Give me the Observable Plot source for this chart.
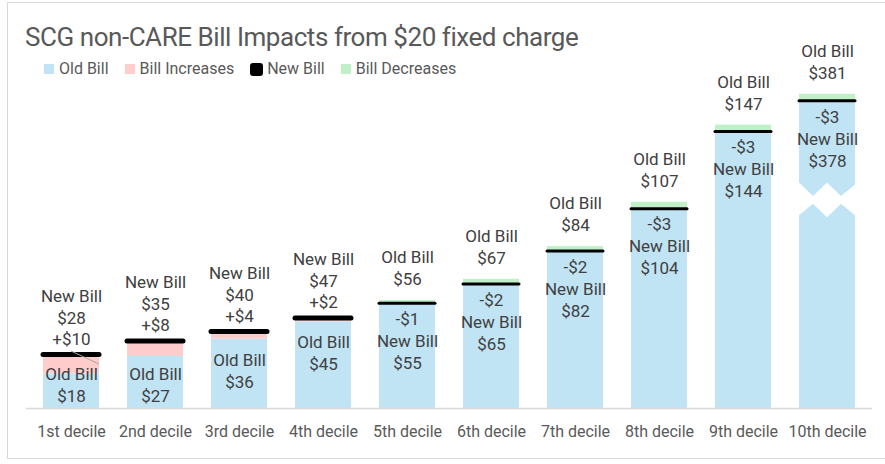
<!DOCTYPE html>
<html>
<head>
<meta charset="utf-8">
<script src="https://cdn.jsdelivr.net/npm/d3@7"></script>
<script src="https://cdn.jsdelivr.net/npm/@observablehq/plot@0.6"></script>
<style>
  html, body { margin: 0; padding: 0; background: #fff; }
  #wrap { position: relative; width: 885px; height: 464px; overflow: hidden; font-family: Roboto, "Noto Sans", sans-serif; }
  #frame { position: absolute; left: 7px; top: 2px; width: 900px; height: 457px; border: 1px solid #d9d9d9; box-sizing: border-box; }
  #chart { position: absolute; left: 0; top: 0; }
  #title { position: absolute; left: 25px; top: 22px; font-size: 26px; line-height: 30px; color: #595959; letter-spacing: -0.45px; white-space: nowrap; }
  #legend { position: absolute; left: 44px; top: 59px; display: flex; align-items: center; font-size: 16px; line-height: 20px; color: #595959; white-space: nowrap; }
  .item { display: flex; align-items: center; margin-right: 16px; }
  .sw { width: 10px; height: 10px; margin-right: 5px; }
  .sw.line { width: 13px; height: 13px; border-radius: 3px; margin-right: 4px; }
</style>
</head>
<body>
<div id="wrap">
  <div id="frame"></div>
  <div id="chart"></div>
  <div id="title"></div>
  <div id="legend"></div>
</div>
<script>
// ---- data ----
const title = "SCG non-CARE Bill Impacts from $20 fixed charge";
const deciles = ["1st decile", "2nd decile", "3rd decile", "4th decile", "5th decile",
                 "6th decile", "7th decile", "8th decile", "9th decile", "10th decile"];
const oldBill = [18, 27, 36, 45, 56, 67, 84, 107, 147, 381];
const newBill = [28, 35, 40, 47, 55, 65, 82, 104, 144, 378];
const seriesNames = ["Old Bill", "Bill Increases", "New Bill", "Bill Decreases"];
const seriesColors = ["#C1E4F5", "#FFCCCC", "#000000", "#C1F0C8"];

// broken value axis for the tallest bar
const breakAbove = 200;      // values above this are drawn shifted down
const breakShift = 218;      // amount removed by the axis break
const breakUpper = [117, 110, 117, 110, 116];   // zigzag edges of the break (value units)
const breakLower = [100, 106, 99, 106, 100];
const labelFloor = 28.5;     // lowest anchor for in-bar labels

// ---- derived table ----
const disp = v => v > breakAbove ? v - breakShift : v;
const rows = deciles.map((d, i) => {
  const o = oldBill[i], n = newBill[i];
  return {decile: d, old: o, nw: n, diff: n - o,
          dOld: disp(o), dNew: disp(n), dBase: disp(Math.min(o, n)),
          up: n > o, broken: o > breakAbove};
});
const inc = rows.filter(r => r.up);
const dec = rows.filter(r => !r.up);

const textColor = "#404040";
const fs = 17;

function breakMark(index, scales) {
  const x = scales.x, y = scales.y;
  const bw = typeof x.bandwidth === "function" ? x.bandwidth() : 0;
  const g = d3.create("svg:g");
  rows.filter(r => r.broken).forEach(r => {
    const x0 = x(r.decile);
    const fr = [0, 0.25, 0.5, 0.75, 1];
    const pts = fr.map((f, k) => [x0 + f * bw, y(breakUpper[k])])
      .concat(fr.slice().reverse().map((f, k) => [x0 + f * bw, y(breakLower[fr.length - 1 - k])]));
    g.append("path").attr("d", "M" + pts.map(p => p.join(",")).join("L") + "Z")
      .attr("fill", "#fff").attr("stroke", "none");
  });
  return g.node();
}

function leaderMark(index, scales) {
  const x = scales.x, y = scales.y;
  const bw = typeof x.bandwidth === "function" ? x.bandwidth() : 0;
  const r = inc[0];
  const x0 = x(r.decile);
  return d3.create("svg:line")
    .attr("x1", x0 + bw * 0.5).attr("y1", y(r.dNew) - 3)
    .attr("x2", x0 + bw).attr("y2", y(r.dNew) + 10)
    .attr("stroke", "#a6a6a6").attr("stroke-width", 1).node();
}

const t = (data, opts) => Plot.text(data, {x: "decile", fill: textColor, fontSize: fs, lineAnchor: "middle", ...opts});

const chart = Plot.plot({
  width: 885,
  height: 464,
  marginTop: 61,
  marginBottom: 56,
  marginLeft: 26,
  marginRight: 13,
  style: {fontFamily: "Roboto, 'Noto Sans', sans-serif", background: "transparent", overflow: "visible"},
  x: {domain: deciles, paddingInner: 0.33, paddingOuter: 0.165, align: 0.5, label: null},
  y: {domain: [0, 180], axis: null},
  marks: [
    Plot.barY(rows, {x: "decile", y1: 0, y2: "dBase", fill: seriesColors[0]}),
    Plot.barY(inc, {x: "decile", y1: "dOld", y2: "dNew", fill: seriesColors[1]}),
    Plot.barY(dec, {x: "decile", y1: "dNew", y2: "dOld", fill: seriesColors[3]}),
    breakMark,
    Plot.ruleY([0], {stroke: "#d9d9d9", strokeWidth: 1.5}),
    Plot.tickY(inc, {x: "decile", y: "dNew", stroke: seriesColors[2], strokeWidth: 5, strokeLinecap: "round"}),
    Plot.tickY(dec, {x: "decile", y: "dNew", dy: 0.7, stroke: seriesColors[2], strokeWidth: 3, strokeLinecap: "round"}),
    // increase labels
    t(inc, {y: "dNew", text: () => "New Bill", dy: -58}),
    t(inc, {y: "dNew", text: d => "$" + d.nw, dy: -36}),
    t(inc, {y: "dNew", text: d => "+$" + d.diff, dy: -15}),
    t(inc, {y: d => Math.max(d.dOld, labelFloor), text: () => "Old Bill", dy: 21}),
    t(inc, {y: d => Math.max(d.dOld, labelFloor), text: d => "$" + d.old, dy: 43}),
    // decrease labels
    t(dec, {y: "dOld", text: () => "Old Bill", dy: -43}),
    t(dec, {y: "dOld", text: d => "$" + d.old, dy: -21}),
    t(dec, {y: "dNew", text: d => "-$" + (-d.diff), dy: 17}),
    t(dec, {y: "dNew", text: () => "New Bill", dy: 39}),
    t(dec, {y: "dNew", text: d => "$" + d.nw, dy: 61}),
    leaderMark,
    Plot.axisX({tickSize: 0, tickPadding: 17, fontSize: 16, color: "#595959", label: null})
  ]
});
document.getElementById("chart").appendChild(chart);

document.getElementById("title").textContent = title;
const legend = document.getElementById("legend");
seriesNames.forEach((name, i) => {
  const item = document.createElement("div");
  item.className = "item";
  const sw = document.createElement("div");
  sw.className = "sw" + (seriesColors[i] === "#000000" ? " line" : "");
  sw.style.background = seriesColors[i];
  const lab = document.createElement("span");
  lab.textContent = name;
  item.appendChild(sw);
  item.appendChild(lab);
  legend.appendChild(item);
});
</script>
</body>
</html>
